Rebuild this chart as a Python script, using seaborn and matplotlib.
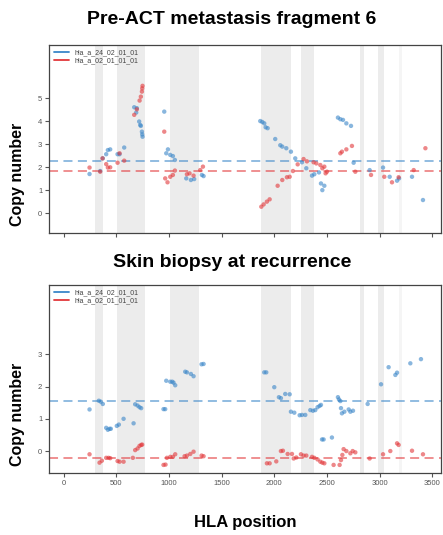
import numpy as np
import pandas as pd
import matplotlib
matplotlib.use("Agg")
import matplotlib.pyplot as plt
from matplotlib.lines import Line2D
import seaborn as sns

# allele names
allele_1 = "hla_a_24_02_01_01"
allele_2 = "hla_a_02_01_01_01"

# shaded (exon) regions along the HLA position
exons = [(300, 373), (510, 775), (1015, 1290), (1875, 2160),
         (2250, 2375), (2810, 2850), (2985, 3040), (3180, 3215)]

# Pre-ACT metastasis fragment 6
top_pos_1 = [247, 348, 373, 405, 421, 443, 513, 532, 576, 671, 690, 696, 718, 728, 734, 744, 747, 750,
             956, 975, 991, 1013, 1038, 1057, 1165, 1209, 1240, 1313, 1329,
             1867, 1886, 1905, 1918, 1937, 2009, 2057, 2076, 2114, 2158, 2199, 2263, 2304, 2358, 2380,
             2424, 2443, 2456, 2475, 2604, 2627, 2652, 2684, 2728, 2753, 2905, 3032, 3095, 3165, 3184,
             3307, 3411]
top_cn_1 = [1.71, 1.84, 2.39, 2.57, 2.75, 2.78, 2.57, 2.57, 2.86, 4.61, 4.38, 4.57, 3.99, 3.84, 3.80, 3.55, 3.43, 3.33,
            4.42, 2.61, 2.78, 2.54, 2.49, 2.32, 1.52, 1.45, 1.49, 1.67, 1.62,
            4.01, 3.97, 3.91, 3.74, 3.70, 3.23, 2.96, 2.90, 2.83, 2.68, 2.39, 2.22, 1.96, 1.64, 1.70,
            1.78, 1.30, 1.01, 1.20, 4.16, 4.09, 4.06, 3.91, 3.80, 2.20, 1.88, 1.99, 1.59, 1.42, 1.52,
            1.59, 0.58]
top_pos_2 = [247, 348, 370, 405, 421, 443, 513, 532, 576, 671, 696, 722, 734, 744, 747, 750,
             956, 965, 987, 1013, 1038, 1057, 1171, 1196, 1234, 1297, 1323,
             1877, 1899, 1930, 1956, 2032, 2076, 2120, 2146, 2177, 2222, 2278, 2310, 2373, 2399,
             2437, 2456, 2475, 2487, 2500, 2627, 2642, 2684, 2737, 2769, 2918, 3044, 3117, 3180,
             3323, 3434]
top_cn_2 = [1.99, 1.81, 2.39, 2.14, 1.99, 2.00, 2.20, 2.61, 2.29, 4.28, 4.52, 4.90, 5.07, 5.29, 5.43, 5.54,
            3.55, 1.52, 1.35, 1.59, 1.67, 1.86, 1.70, 1.74, 1.64, 1.88, 2.03,
            0.29, 0.39, 0.51, 0.61, 1.20, 1.45, 1.57, 1.59, 1.84, 2.13, 2.36, 2.26, 2.22, 2.17,
            2.10, 1.96, 2.03, 1.74, 1.81, 2.61, 2.68, 2.78, 2.93, 1.81, 1.67, 1.59, 1.35, 1.57,
            1.88, 2.83]
top_mean_1 = 2.27
top_mean_2 = 1.84

# Skin biopsy at recurrence
bot_pos_1 = [247, 335, 354, 373, 405, 421, 437, 449, 506, 525, 570, 665, 680, 703, 721, 737,
             949, 965, 975, 1013, 1032, 1044, 1060, 1155, 1171, 1209, 1234, 1310, 1329,
             1905, 1924, 2000, 2044, 2063, 2104, 2146, 2158, 2190, 2241, 2263, 2294, 2342, 2367,
             2389, 2411, 2430, 2443, 2453, 2468, 2547, 2604, 2614, 2627, 2633, 2642, 2665, 2706,
             2722, 2747, 2886, 3013, 3085, 3149, 3165, 3291, 3392]
bot_cn_1 = [1.29, 1.56, 1.53, 1.46, 0.72, 0.66, 0.69, 0.69, 0.78, 0.82, 1.00, 0.86, 1.45, 1.41, 1.36, 1.33,
            1.30, 1.30, 2.18, 2.15, 2.15, 2.12, 2.04, 2.46, 2.44, 2.39, 2.32, 2.69, 2.70,
            2.44, 2.44, 1.98, 1.67, 1.64, 1.77, 1.76, 1.22, 1.19, 1.11, 1.12, 1.12, 1.27, 1.25,
            1.27, 1.36, 1.40, 1.43, 0.36, 0.36, 0.42, 1.67, 1.60, 1.55, 1.33, 1.17, 1.22, 1.29,
            1.22, 1.25, 1.46, 2.07, 2.60, 2.36, 2.43, 2.72, 2.85]
bot_pos_2 = [247, 342, 364, 405, 427, 443, 513, 532, 570, 658, 680, 703, 721, 737, 747,
             949, 968, 981, 1013, 1038, 1060, 1149, 1171, 1203, 1234, 1310, 1329,
             1930, 1956, 2019, 2063, 2082, 2127, 2168, 2184, 2209, 2253, 2278, 2304, 2358, 2380,
             2411, 2437, 2456, 2475, 2563, 2620, 2633, 2646, 2658, 2684, 2722, 2744, 2769, 2905,
             3032, 3101, 3165, 3180, 3307, 3411]
bot_cn_2 = [-0.10, -0.36, -0.30, -0.21, -0.21, -0.22, -0.31, -0.33, -0.33, -0.21, 0.03, 0.08, 0.16, 0.19, 0.20,
            -0.43, -0.42, -0.21, -0.18, -0.18, -0.10, -0.16, -0.14, -0.09, -0.02, -0.14, -0.16,
            -0.38, -0.38, -0.32, 0.00, 0.01, -0.09, -0.09, -0.23, -0.20, -0.10, -0.14, -0.14, -0.18, -0.21,
            -0.26, -0.33, -0.36, -0.38, -0.43, -0.43, -0.28, -0.12, 0.06, 0.00, -0.07, 0.00, -0.04, -0.23,
            -0.10, 0.00, 0.24, 0.19, 0.01, -0.10]
bot_mean_1 = 1.56
bot_mean_2 = -0.23

BLUE = "#3a86c8"
RED = "#e2373a"
palette = {allele_1: BLUE, allele_2: RED}


def make_df(pos_1, cn_1, pos_2, cn_2):
    d1 = pd.DataFrame({"pos": pos_1, "cn": cn_1, "allele": allele_1})
    d2 = pd.DataFrame({"pos": pos_2, "cn": cn_2, "allele": allele_2})
    return pd.concat([d1, d2], ignore_index=True)


def draw_panel(ax, df, mean_1, mean_2, title, yticks, ylim, xlabels=True, title_pad=13):
    for i, (a, b) in enumerate(exons):
        ax.axvspan(a, b, color="#f5f5f5" if i == len(exons) - 1 else "#ececec", lw=0, zorder=0)
    sns.scatterplot(data=df, x="pos", y="cn", hue="allele", palette=palette, ax=ax,
                    s=10, alpha=0.6, edgecolor="none", legend=False, zorder=3)
    ax.axhline(mean_1, color=BLUE, ls=(0, (5, 3)), lw=1.3, alpha=0.6, zorder=2)
    ax.axhline(mean_2, color=RED, ls=(0, (5, 3)), lw=1.3, alpha=0.6, zorder=2)
    ax.set_xlim(-136, 3580)
    ax.set_ylim(*ylim)
    ax.set_xticks(range(0, 3501, 500))
    ax.set_yticks(yticks)
    if not xlabels:
        ax.set_xticklabels([])
    ax.tick_params(labelsize=5.5, colors="#555555", length=3, width=0.8, pad=2)
    ax.set_xlabel("")
    ax.set_ylabel("Copy number", fontsize=11.5, fontweight="bold", color="black")
    ax.yaxis.set_label_coords(-0.063, 0.31)
    ax.set_title(title, fontsize=14, fontweight="bold", color="black", pad=title_pad, x=0.467)
    for sp in ax.spines.values():
        sp.set_color("#444444")
        sp.set_linewidth(0.9)
    handles = [Line2D([0], [0], color=BLUE, lw=1.3), Line2D([0], [0], color=RED, lw=1.3)]
    ax.legend(handles, [allele_1, allele_2], loc="upper left", frameon=False,
              fontsize=5, handlelength=2.2, labelspacing=0.1, borderaxespad=0.3,
              labelcolor="#444444")


sns.set_style("ticks")
plt.rcParams["font.family"] = ["Liberation Sans", "DejaVu Sans"]

fig = plt.figure(figsize=(4.43, 5.35), dpi=100)
ax1 = fig.add_axes([0.111, 0.565, 0.884, 0.3516])
ax2 = fig.add_axes([0.111, 0.1153, 0.884, 0.3527])

draw_panel(ax1, make_df(top_pos_1, top_cn_1, top_pos_2, top_cn_2), top_mean_1, top_mean_2,
           "Pre-ACT metastasis fragment 6", [0, 1, 2, 3, 4, 5], (-0.84, 7.33), xlabels=False,
           title_pad=15)
draw_panel(ax2, make_df(bot_pos_1, bot_cn_1, bot_pos_2, bot_cn_2), bot_mean_1, bot_mean_2,
           "Skin biopsy at recurrence", [0, 1, 2, 3], (-0.69, 5.16), title_pad=12.5)
ax2.set_xlabel("HLA position", fontsize=12, fontweight="bold", color="black", labelpad=20)

fig.savefig("out.png", dpi=100)
